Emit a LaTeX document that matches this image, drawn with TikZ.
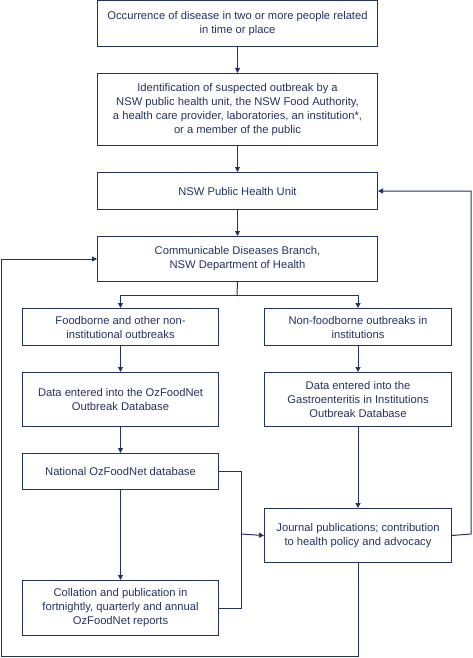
\documentclass[tikz,border=0pt]{standalone}
\usepackage{fontspec}
\setmainfont{Liberation Sans}
\usetikzlibrary{arrows.meta}
\definecolor{navy}{HTML}{233266}
\begin{document}
\begin{tikzpicture}[x=1pt,y=-1pt,
  box/.style={draw=navy, line width=1pt, text=navy, align=center, font=\fontsize{11.2}{14}\selectfont, inner sep=0pt, anchor=north west},
  conn/.style={draw=navy, line width=1pt},
  arr/.style={conn, -{Triangle[length=5pt,width=5pt]}}]
\useasboundingbox (0,0) rectangle (472,658);
\node[box, minimum width=280, minimum height=46] (b1) at (97,0) {Occurrence of disease in two or more people related\\in time or place};
\node[box, minimum width=280, minimum height=72] (b2) at (97,73) {Identification of suspected outbreak by a\\NSW public health unit, the NSW Food Authority,\\a health care provider, laboratories, an institution*,\\or a member of the public};
\node[box, minimum width=280, minimum height=37] (b3) at (97,172) {NSW Public Health Unit};
\node[box, minimum width=280, minimum height=45] (b4) at (97,236) {Communicable Diseases Branch,\\NSW Department of Health};
\node[box, minimum width=196, minimum height=37] (b5) at (22,308) {Foodborne and other non-\\institutional outbreaks};
\node[box, minimum width=187, minimum height=37] (b6) at (264,308) {Non-foodborne outbreaks in\\institutions};
\node[box, minimum width=196, minimum height=54] (b7) at (22,372) {Data entered into the OzFoodNet\\Outbreak Database};
\node[box, minimum width=187, minimum height=54] (b8) at (264,372) {Data entered into the\\Gastroenteritis in Institutions\\Outbreak Database};
\node[box, minimum width=196, minimum height=36] (b9) at (22,453) {National OzFoodNet database};
\node[box, minimum width=187, minimum height=54] (b10) at (264,508) {Journal publications; contribution\\to health policy and advocacy};
\node[box, minimum width=196, minimum height=55] (b11) at (22,580) {Collation and publication in\\fortnightly, quarterly and annual\\OzFoodNet reports};
\coordinate (split) at (237,295);
\coordinate (merge) at (241,534);
\coordinate (bl) at (1,656);
\coordinate (rr) at (471,534);
\draw[arr] (b1.south) -- (b2.north);
\draw[arr] (b2.south) -- (b3.north);
\draw[arr] (b3.south) -- (b4.north);
\draw[conn] (b4.south) -- (split);
\draw[arr] (split) -| (b5.north);
\draw[arr] (split) -| (b6.north);
\draw[arr] (b5.south) -- (b7.north);
\draw[arr] (b6.south) -- (b8.north);
\draw[arr] (b7.south) -- (b9.north);
\draw[arr] (b8.south) -- (b10.north);
\draw[arr] (b9.south) -- (b11.north);
\draw[conn] (b9.east) -| (merge);
\draw[conn] (b11.east) -| (merge);
\draw[arr] (merge) -- (b10.west);
\draw[arr] (b10.south) |- (bl) |- (b4.west);
\draw[arr] (b10.east) -- (rr) |- (b3.east);
\end{tikzpicture}
\end{document}
